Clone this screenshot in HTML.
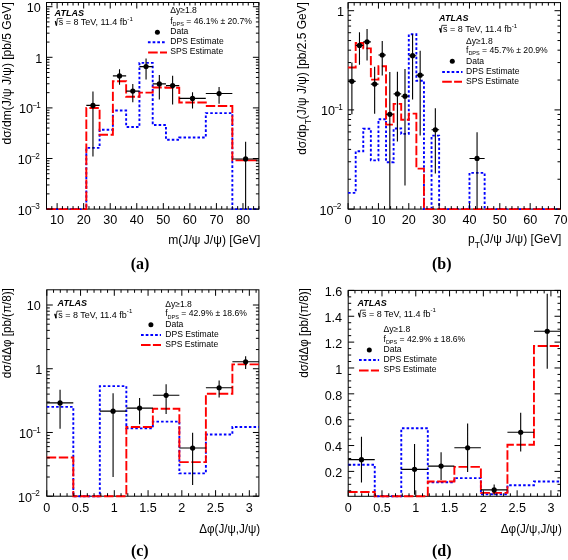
<!DOCTYPE html>
<html><head><meta charset="utf-8"><style>html,body{margin:0;padding:0;background:#fff;}svg{display:block;will-change:transform;}text{fill:#000;}</style></head>
<body>
<svg width="568" height="560" viewBox="0 0 568 560" font-family='"Liberation Sans", sans-serif'>
<rect width="568" height="560" fill="#fff"/>
<rect x="46.5" y="2.5" width="212.4" height="206.6" fill="none" stroke="#000" stroke-width="1"/>
<path d="M46.5 209.1 L86.32 209.1 L86.32 147.9 L99.6 147.9 L99.6 129.75 L112.88 129.75 L112.88 110.46 L126.15 110.46 L126.15 126.96 L139.42 126.96 L139.42 62.9 L152.7 62.9 L152.7 124.96 L165.97 124.96 L165.97 139.72 L179.25 139.72 L179.25 137.5 L205.8 137.5 L205.8 113.08 L232.35 113.08 L232.35 209.1 L258.9 209.1" fill="none" stroke="#0000ff" stroke-width="1.9" stroke-dasharray="2.55 2.1"/>
<path d="M46.5 209.1 L86.32 209.1 L86.32 108.01 L99.6 108.01 L99.6 134.8 L112.88 134.8 L112.88 81.27 L126.15 81.27 L126.15 96.76 L139.42 96.76 L139.42 92.67 L152.7 92.67 L152.7 87.5 L165.97 87.5 L165.97 87.68 L179.25 87.68 L179.25 102.48 L205.8 102.48 L205.8 106.01 L232.35 106.01 L232.35 160.33 L258.9 160.33" fill="none" stroke="#ff0000" stroke-width="1.9" stroke-dasharray="9.4 2.6"/>
<path d="M92.96 91.39V156.41M86.32 105.41H99.6M119.51 69.31V84.81M112.88 75.9H126.15M132.79 83.9V102.13M126.15 91.08H139.42M146.06 58.59V79.51M139.42 66.6H152.7M159.34 74.99V99.58M152.7 83.9H165.97M172.61 75.8V104.45M165.97 85.59H179.25M192.52 92.13V108.57M179.25 98.41H205.8M219.07 87.07V103.71M205.8 93.56H232.35M245.62 141.78V209.1M232.35 158.94H258.9" stroke="#000" stroke-width="1.1" fill="none"/>
<g fill="#000"><circle cx="92.96" cy="105.41" r="2.6"/><circle cx="119.51" cy="75.9" r="2.6"/><circle cx="132.79" cy="91.08" r="2.6"/><circle cx="146.06" cy="66.6" r="2.6"/><circle cx="159.34" cy="83.9" r="2.6"/><circle cx="172.61" cy="85.59" r="2.6"/><circle cx="192.52" cy="98.41" r="2.6"/><circle cx="219.07" cy="93.56" r="2.6"/><circle cx="245.62" cy="158.94" r="2.6"/></g>
<path d="M57.12 209.1v-6M57.12 2.5v6M83.67 209.1v-6M83.67 2.5v6M110.22 209.1v-6M110.22 2.5v6M136.77 209.1v-6M136.77 2.5v6M163.32 209.1v-6M163.32 2.5v3M189.87 209.1v-6M189.87 2.5v3M216.42 209.1v-6M216.42 2.5v3M242.97 209.1v-6M242.97 2.5v3M46.5 209.1v-3M46.5 2.5v3M51.81 209.1v-3M51.81 2.5v3M62.43 209.1v-3M62.43 2.5v3M67.74 209.1v-3M67.74 2.5v3M73.05 209.1v-3M73.05 2.5v3M78.36 209.1v-3M78.36 2.5v3M88.98 209.1v-3M88.98 2.5v3M94.29 209.1v-3M94.29 2.5v3M99.6 209.1v-3M99.6 2.5v3M104.91 209.1v-3M104.91 2.5v3M115.53 209.1v-3M115.53 2.5v3M120.84 209.1v-3M120.84 2.5v3M126.15 209.1v-3M126.15 2.5v3M131.46 209.1v-3M131.46 2.5v3M142.08 209.1v-3M142.08 2.5v3M147.39 209.1v-3M147.39 2.5v3M152.7 209.1v-3M152.7 2.5v3M158.01 209.1v-3M158.01 2.5v3M168.63 209.1v-3M168.63 2.5v3M173.94 209.1v-3M173.94 2.5v3M179.25 209.1v-3M179.25 2.5v3M184.56 209.1v-3M184.56 2.5v3M195.18 209.1v-3M195.18 2.5v3M200.49 209.1v-3M200.49 2.5v3M205.8 209.1v-3M205.8 2.5v3M211.11 209.1v-3M211.11 2.5v3M221.73 209.1v-3M221.73 2.5v3M227.04 209.1v-3M227.04 2.5v3M232.35 209.1v-3M232.35 2.5v3M237.66 209.1v-3M237.66 2.5v3M248.28 209.1v-3M248.28 2.5v3M253.59 209.1v-3M253.59 2.5v3M258.9 209.1v-3M258.9 2.5v3" stroke="#000" stroke-width="1" fill="none"/>
<path d="M46.5 209.1h6M258.9 209.1h-6M46.5 158.5h6M258.9 158.5h-6M46.5 107.9h6M258.9 107.9h-6M46.5 57.3h6M258.9 57.3h-6M46.5 6.7h6M258.9 6.7h-6M46.5 193.87h3M258.9 193.87h-3M46.5 184.96h3M258.9 184.96h-3M46.5 178.64h3M258.9 178.64h-3M46.5 173.73h3M258.9 173.73h-3M46.5 169.73h3M258.9 169.73h-3M46.5 166.34h3M258.9 166.34h-3M46.5 163.4h3M258.9 163.4h-3M46.5 160.82h3M258.9 160.82h-3M46.5 143.27h3M258.9 143.27h-3M46.5 134.36h3M258.9 134.36h-3M46.5 128.04h3M258.9 128.04h-3M46.5 123.13h3M258.9 123.13h-3M46.5 119.13h3M258.9 119.13h-3M46.5 115.74h3M258.9 115.74h-3M46.5 112.8h3M258.9 112.8h-3M46.5 110.22h3M258.9 110.22h-3M46.5 92.67h3M258.9 92.67h-3M46.5 83.76h3M258.9 83.76h-3M46.5 77.44h3M258.9 77.44h-3M46.5 72.53h3M258.9 72.53h-3M46.5 68.53h3M258.9 68.53h-3M46.5 65.14h3M258.9 65.14h-3M46.5 62.2h3M258.9 62.2h-3M46.5 59.62h3M258.9 59.62h-3M46.5 42.07h3M258.9 42.07h-3M46.5 33.16h3M258.9 33.16h-3M46.5 26.84h3M258.9 26.84h-3M46.5 21.93h3M258.9 21.93h-3M46.5 17.93h3M258.9 17.93h-3M46.5 14.54h3M258.9 14.54h-3M46.5 11.6h3M258.9 11.6h-3M46.5 9.02h3M258.9 9.02h-3" stroke="#000" stroke-width="1" fill="none"/>
<text x="57.12" y="223.95" font-size="12.6" text-anchor="middle">10</text>
<text x="83.67" y="223.95" font-size="12.6" text-anchor="middle">20</text>
<text x="110.22" y="223.95" font-size="12.6" text-anchor="middle">30</text>
<text x="136.77" y="223.95" font-size="12.6" text-anchor="middle">40</text>
<text x="163.32" y="223.95" font-size="12.6" text-anchor="middle">50</text>
<text x="189.87" y="223.95" font-size="12.6" text-anchor="middle">60</text>
<text x="216.42" y="223.95" font-size="12.6" text-anchor="middle">70</text>
<text x="242.97" y="223.95" font-size="12.6" text-anchor="middle">80</text>
<text x="26.74" y="12.1" font-size="12.6">10</text>
<text x="35.34" y="62.7" font-size="12.6">1</text>
<text x="19.04" y="113.3" font-size="12.6">10<tspan font-size="8.2" dx="-0.5" dy="-5.2">−</tspan><tspan font-size="8.2" dx="-1">1</tspan></text>
<text x="17.84" y="163.9" font-size="12.6">10<tspan font-size="8.2" dx="-0.5" dy="-5.2">−</tspan><tspan font-size="8.2" dx="-1">2</tspan></text>
<text x="17.84" y="214.5" font-size="12.6">10<tspan font-size="8.2" dx="-0.5" dy="-5.2">−</tspan><tspan font-size="8.2" dx="-1">3</tspan></text>
<text transform="translate(260.3 244.3) scale(0.995 1)" font-size="12.2" text-anchor="end">m(J/ψ J/ψ) [GeV]</text>
<text transform="translate(10.9 2.2) rotate(-90) scale(0.988 1)" font-size="12.2" text-anchor="end">dσ/dm(J/ψ J/ψ) [pb/5 GeV]</text>
<text x="54.6" y="16.4" font-size="9.0" font-weight="bold" font-style="italic">ATLAS</text>
<path d="M55.3 21.1 L56.57 25.59 L57.45 18.46 H62.53" stroke="#000" stroke-width="0.73" fill="none" stroke-linejoin="miter"/>
<path d="M55.4 21.2 L56.47 25.5" stroke="#000" stroke-width="1.27" fill="none"/>
<text x="58.7" y="25.3" font-size="9.0">s = 8 TeV,<tspan dx="2.5">11.4 fb</tspan><tspan font-size="6.12" dy="-4.6">-1</tspan></text>
<text x="170.2" y="13.4" font-size="8.6" text-anchor="start">Δy≥1.8</text>
<text x="170.2" y="23.5" font-size="8.6">f<tspan font-size="5.5" dy="2.3">DPS</tspan><tspan dy="-2.3"> = 46.1% ± 20.7%</tspan></text>
<circle cx="157.4" cy="32.2" r="2.5" fill="#000"/>
<text x="170.2" y="34" font-size="8.6" text-anchor="start">Data</text>
<path d="M147.9 42.3H165.3" stroke="#0000ff" stroke-width="2" stroke-dasharray="2.7 2.0" fill="none"/>
<text x="170.2" y="44" font-size="8.6" text-anchor="start">DPS Estimate</text>
<path d="M148.1 52.5H167" stroke="#ff0000" stroke-width="2" stroke-dasharray="9.6 2.3" fill="none"/>
<text x="170.2" y="54" font-size="8.6" text-anchor="start">SPS Estimate</text>
<rect x="348.1" y="2.6" width="212.4" height="206.5" fill="none" stroke="#000" stroke-width="1"/>
<path d="M348.1 192.91 L355.69 192.91 L355.69 151.25 L363.27 151.25 L363.27 128.79 L370.86 128.79 L370.86 160.36 L378.44 160.36 L378.44 119.19 L386.03 119.19 L386.03 162.2 L393.61 162.2 L393.61 128.46 L401.2 128.46 L401.2 133.89 L408.79 133.89 L408.79 34.32 L416.37 34.32 L416.37 80.69 L423.96 80.69 L423.96 209.1 L431.54 209.1 L431.54 135.66 L439.13 135.66 L439.13 209.1 L469.47 209.1 L469.47 172.84 L484.64 172.84 L484.64 209.1 L560.5 209.1" fill="none" stroke="#0000ff" stroke-width="1.9" stroke-dasharray="2.55 2.1"/>
<path d="M348.1 67.43 L355.69 67.43 L355.69 43.04 L363.27 43.04 L363.27 48.38 L370.86 48.38 L370.86 79.61 L378.44 79.61 L378.44 66.32 L386.03 66.32 L386.03 124.66 L393.61 124.66 L393.61 103.88 L401.2 103.88 L401.2 119.78 L408.79 119.78 L408.79 113.59 L416.37 113.59 L416.37 168.6 L423.96 168.6 L423.96 209.1 L560.5 209.1" fill="none" stroke="#ff0000" stroke-width="1.9" stroke-dasharray="9.4 2.6"/>
<path d="M351.89 62.57V114.3M348.1 81.35H355.69M359.48 32.14V64.63M355.69 45.39H363.27M367.06 28.93V60.6M363.27 41.87H370.86M374.65 66.79V113.77M370.86 84.1H378.44M382.24 41V75.54M378.44 55H386.03M389.82 72V209.1M386.03 114.3H393.61M397.41 71.65V141.52M393.61 93.89H401.2M404.99 68.9V185.61M401.2 96.18H408.79M412.58 34.32V99.6M408.79 55.68H416.37M420.16 50.83V135.5M416.37 75.16H423.96M435.34 108.21V173.4M431.54 129.74H439.13M477.06 132.27V209.1M469.47 158.45H484.64" stroke="#000" stroke-width="1.1" fill="none"/>
<g fill="#000"><circle cx="351.89" cy="81.35" r="2.6"/><circle cx="359.48" cy="45.39" r="2.6"/><circle cx="367.06" cy="41.87" r="2.6"/><circle cx="374.65" cy="84.1" r="2.6"/><circle cx="382.24" cy="55" r="2.6"/><circle cx="389.82" cy="114.3" r="2.6"/><circle cx="397.41" cy="93.89" r="2.6"/><circle cx="404.99" cy="96.18" r="2.6"/><circle cx="412.58" cy="55.68" r="2.6"/><circle cx="420.16" cy="75.16" r="2.6"/><circle cx="435.34" cy="129.74" r="2.6"/><circle cx="477.06" cy="158.45" r="2.6"/></g>
<path d="M348.1 209.1v-6M348.1 2.6v6M378.44 209.1v-6M378.44 2.6v6M408.79 209.1v-6M408.79 2.6v6M439.13 209.1v-6M439.13 2.6v6M469.47 209.1v-6M469.47 2.6v6M499.81 209.1v-6M499.81 2.6v6M530.16 209.1v-6M530.16 2.6v6M560.5 209.1v-6M560.5 2.6v6M354.17 209.1v-3M354.17 2.6v3M360.24 209.1v-3M360.24 2.6v3M366.31 209.1v-3M366.31 2.6v3M372.37 209.1v-3M372.37 2.6v3M384.51 209.1v-3M384.51 2.6v3M390.58 209.1v-3M390.58 2.6v3M396.65 209.1v-3M396.65 2.6v3M402.72 209.1v-3M402.72 2.6v3M414.85 209.1v-3M414.85 2.6v3M420.92 209.1v-3M420.92 2.6v3M426.99 209.1v-3M426.99 2.6v3M433.06 209.1v-3M433.06 2.6v3M445.2 209.1v-3M445.2 2.6v3M451.27 209.1v-3M451.27 2.6v3M457.33 209.1v-3M457.33 2.6v3M463.4 209.1v-3M463.4 2.6v3M475.54 209.1v-3M475.54 2.6v3M481.61 209.1v-3M481.61 2.6v3M487.68 209.1v-3M487.68 2.6v3M493.75 209.1v-3M493.75 2.6v3M505.88 209.1v-3M505.88 2.6v3M511.95 209.1v-3M511.95 2.6v3M518.02 209.1v-3M518.02 2.6v3M524.09 209.1v-3M524.09 2.6v3M536.23 209.1v-3M536.23 2.6v3M542.29 209.1v-3M542.29 2.6v3M548.36 209.1v-3M548.36 2.6v3M554.43 209.1v-3M554.43 2.6v3" stroke="#000" stroke-width="1" fill="none"/>
<path d="M348.1 209.1h6M560.5 209.1h-6M348.1 109.9h6M560.5 109.9h-6M348.1 10.7h6M560.5 10.7h-6M348.1 179.24h3M560.5 179.24h-3M348.1 161.77h3M560.5 161.77h-3M348.1 149.38h3M560.5 149.38h-3M348.1 139.76h3M560.5 139.76h-3M348.1 131.91h3M560.5 131.91h-3M348.1 125.27h3M560.5 125.27h-3M348.1 119.51h3M560.5 119.51h-3M348.1 114.44h3M560.5 114.44h-3M348.1 80.04h3M560.5 80.04h-3M348.1 62.57h3M560.5 62.57h-3M348.1 50.18h3M560.5 50.18h-3M348.1 40.56h3M560.5 40.56h-3M348.1 32.71h3M560.5 32.71h-3M348.1 26.07h3M560.5 26.07h-3M348.1 20.31h3M560.5 20.31h-3M348.1 15.24h3M560.5 15.24h-3" stroke="#000" stroke-width="1" fill="none"/>
<text x="348.1" y="223.95" font-size="12.6" text-anchor="middle">0</text>
<text x="378.44" y="223.95" font-size="12.6" text-anchor="middle">10</text>
<text x="408.79" y="223.95" font-size="12.6" text-anchor="middle">20</text>
<text x="439.13" y="223.95" font-size="12.6" text-anchor="middle">30</text>
<text x="469.47" y="223.95" font-size="12.6" text-anchor="middle">40</text>
<text x="499.81" y="223.95" font-size="12.6" text-anchor="middle">50</text>
<text x="530.16" y="223.95" font-size="12.6" text-anchor="middle">60</text>
<text x="560.5" y="223.95" font-size="12.6" text-anchor="middle">70</text>
<text x="336.94" y="16.1" font-size="12.6">1</text>
<text x="320.94" y="115.3" font-size="12.6">10<tspan font-size="8.2" dx="-0.5" dy="-5.2">−</tspan><tspan font-size="8.2" dx="-1">1</tspan></text>
<text x="319.44" y="214.5" font-size="12.6">10<tspan font-size="8.2" dx="-0.5" dy="-5.2">−</tspan><tspan font-size="8.2" dx="-1">2</tspan></text>
<text transform="translate(561.4 243.2) scale(0.99 1)" font-size="12.2" text-anchor="end">p<tspan font-size="8.54" dy="5.0">T</tspan><tspan dy="-5.0">(J/ψ J/ψ) [GeV]</tspan></text>
<text transform="translate(306.4 2.2) rotate(-90) scale(0.978 1)" font-size="12.2" text-anchor="end">dσ/dp<tspan font-size="8.54" dy="5.0">T</tspan><tspan dy="-5.0">(J/ψ J/ψ) [pb/2.5 GeV]</tspan></text>
<text x="439.1" y="20.8" font-size="9.0" font-weight="bold" font-style="italic">ATLAS</text>
<path d="M439.7 28 L440.97 32.49 L441.85 25.36 H446.93" stroke="#000" stroke-width="0.73" fill="none" stroke-linejoin="miter"/>
<path d="M439.8 28.1 L440.87 32.4" stroke="#000" stroke-width="1.27" fill="none"/>
<text x="443.1" y="32.2" font-size="9.0">s = 8 TeV,<tspan dx="2.5">11.4 fb</tspan><tspan font-size="6.12" dy="-4.6">-1</tspan></text>
<text x="466" y="43.6" font-size="8.6" text-anchor="start">Δy≥1.8</text>
<text x="466" y="52.9" font-size="8.6">f<tspan font-size="5.5" dy="2.3">DPS</tspan><tspan dy="-2.3"> = 45.7% ± 20.9%</tspan></text>
<circle cx="452.3" cy="61.3" r="2.5" fill="#000"/>
<text x="466" y="63.5" font-size="8.6" text-anchor="start">Data</text>
<path d="M442.2 71.9H462.5" stroke="#0000ff" stroke-width="2" stroke-dasharray="2.7 2.0" fill="none"/>
<text x="466" y="73.5" font-size="8.6" text-anchor="start">DPS Estimate</text>
<path d="M442.2 81.7H462" stroke="#ff0000" stroke-width="2" stroke-dasharray="9.6 2.3" fill="none"/>
<text x="466" y="83.5" font-size="8.6" text-anchor="start">SPS Estimate</text>
<rect x="46.8" y="289.8" width="212.1" height="206.4" fill="none" stroke="#000" stroke-width="1"/>
<path d="M46.8 406.89 L73.31 406.89 L73.31 496.2 L99.82 496.2 L99.82 386.1 L126.34 386.1 L126.34 428.36 L152.85 428.36 L152.85 421.62 L179.36 421.62 L179.36 473.39 L205.88 473.39 L205.88 434.48 L232.39 434.48 L232.39 426.97 L258.9 426.97" fill="none" stroke="#0000ff" stroke-width="1.9" stroke-dasharray="2.55 2.1"/>
<path d="M46.8 457.49 L73.31 457.49 L73.31 496.2 L99.82 496.2 L99.82 496.2 L126.34 496.2 L126.34 426.97 L152.85 426.97 L152.85 408.82 L179.36 408.82 L179.36 462.17 L205.88 462.17 L205.88 393.69 L232.39 393.69 L232.39 364.39 L258.9 364.39" fill="none" stroke="#ff0000" stroke-width="1.9" stroke-dasharray="9.4 2.6"/>
<path d="M60.06 389.76V428.84M46.8 402.91H73.31M113.08 393.28V477.02M99.82 411.16H126.34M139.59 397.96V424.37M126.34 408.12H152.85M166.11 384.25V413.99M152.85 395.3H179.36M192.62 432.75V484.98M179.36 448.03H205.88M219.13 380.54V397.56M205.88 387.76H232.39M245.64 356.18V368.91M232.39 361.82H258.9" stroke="#000" stroke-width="1.1" fill="none"/>
<g fill="#000"><circle cx="60.06" cy="402.91" r="2.6"/><circle cx="113.08" cy="411.16" r="2.6"/><circle cx="139.59" cy="408.12" r="2.6"/><circle cx="166.11" cy="395.3" r="2.6"/><circle cx="192.62" cy="448.03" r="2.6"/><circle cx="219.13" cy="387.76" r="2.6"/><circle cx="245.64" cy="361.82" r="2.6"/></g>
<path d="M46.8 496.2v-6M46.8 289.8v6M80.56 496.2v-6M80.56 289.8v6M114.31 496.2v-6M114.31 289.8v6M148.07 496.2v-6M148.07 289.8v6M181.83 496.2v-6M181.83 289.8v6M215.58 496.2v-6M215.58 289.8v6M249.34 496.2v-6M249.34 289.8v6M53.55 496.2v-3M53.55 289.8v3M60.3 496.2v-3M60.3 289.8v3M67.05 496.2v-3M67.05 289.8v3M73.81 496.2v-3M73.81 289.8v3M87.31 496.2v-3M87.31 289.8v3M94.06 496.2v-3M94.06 289.8v3M100.81 496.2v-3M100.81 289.8v3M107.56 496.2v-3M107.56 289.8v3M121.06 496.2v-3M121.06 289.8v3M127.82 496.2v-3M127.82 289.8v3M134.57 496.2v-3M134.57 289.8v3M141.32 496.2v-3M141.32 289.8v3M154.82 496.2v-3M154.82 289.8v3M161.57 496.2v-3M161.57 289.8v3M168.32 496.2v-3M168.32 289.8v3M175.08 496.2v-3M175.08 289.8v3M188.58 496.2v-3M188.58 289.8v3M195.33 496.2v-3M195.33 289.8v3M202.08 496.2v-3M202.08 289.8v3M208.83 496.2v-3M208.83 289.8v3M222.34 496.2v-3M222.34 289.8v3M229.09 496.2v-3M229.09 289.8v3M235.84 496.2v-3M235.84 289.8v3M242.59 496.2v-3M242.59 289.8v3M256.09 496.2v-3M256.09 289.8v3" stroke="#000" stroke-width="1" fill="none"/>
<text x="46.8" y="511.95" font-size="12.6" text-anchor="middle">0</text>
<text x="80.56" y="511.95" font-size="12.6" text-anchor="middle">0.5</text>
<text x="114.31" y="511.95" font-size="12.6" text-anchor="middle">1</text>
<text x="148.07" y="511.95" font-size="12.6" text-anchor="middle">1.5</text>
<text x="181.83" y="511.95" font-size="12.6" text-anchor="middle">2</text>
<text x="215.58" y="511.95" font-size="12.6" text-anchor="middle">2.5</text>
<text x="249.34" y="511.95" font-size="12.6" text-anchor="middle">3</text>
<text transform="translate(260.2 532.6) scale(0.955 1)" font-size="12.2" text-anchor="end">Δφ(J/ψ,J/ψ)</text>
<rect x="348.2" y="290.4" width="212.3" height="205.9" fill="none" stroke="#000" stroke-width="1"/>
<path d="M348.2 464.68 L374.74 464.68 L374.74 496.3 L401.27 496.3 L401.27 428.22 L427.81 428.22 L427.81 482.26 L454.35 482.26 L454.35 478.13 L480.89 478.13 L480.89 494.31 L507.43 494.31 L507.43 485.24 L533.96 485.24 L533.96 481.49 L560.5 481.49" fill="none" stroke="#0000ff" stroke-width="1.9" stroke-dasharray="2.55 2.1"/>
<path d="M348.2 492.02 L374.74 492.02 L374.74 496.3 L401.27 496.3 L401.27 496.3 L427.81 496.3 L427.81 481.49 L454.35 481.49 L454.35 466.88 L480.89 466.88 L480.89 492.84 L507.43 492.84 L507.43 444.77 L533.96 444.77 L533.96 345.99 L560.5 345.99" fill="none" stroke="#ff0000" stroke-width="1.9" stroke-dasharray="9.4 2.6"/>
<path d="M361.47 436.75V482.52M348.2 459.64H374.74M414.54 443.99V494.67M401.27 469.33H427.81M441.08 452.27V479.94M427.81 466.1H454.35M467.62 423.44V472.05M454.35 447.74H480.89M494.16 484.46V495.32M480.89 489.89H507.43M520.69 412.83V451.62M507.43 432.23H533.96M547.23 293.76V368.75M533.96 331.25H560.5" stroke="#000" stroke-width="1.1" fill="none"/>
<g fill="#000"><circle cx="361.47" cy="459.64" r="2.6"/><circle cx="414.54" cy="469.33" r="2.6"/><circle cx="441.08" cy="466.1" r="2.6"/><circle cx="467.62" cy="447.74" r="2.6"/><circle cx="494.16" cy="489.89" r="2.6"/><circle cx="520.69" cy="432.23" r="2.6"/><circle cx="547.23" cy="331.25" r="2.6"/></g>
<path d="M348.2 496.3v-6M348.2 290.4v6M381.99 496.3v-6M381.99 290.4v6M415.78 496.3v-6M415.78 290.4v6M449.57 496.3v-6M449.57 290.4v6M483.35 496.3v-6M483.35 290.4v6M517.14 496.3v-6M517.14 290.4v6M550.93 496.3v-6M550.93 290.4v6M354.96 496.3v-3M354.96 290.4v3M361.72 496.3v-3M361.72 290.4v3M368.47 496.3v-3M368.47 290.4v3M375.23 496.3v-3M375.23 290.4v3M388.75 496.3v-3M388.75 290.4v3M395.5 496.3v-3M395.5 290.4v3M402.26 496.3v-3M402.26 290.4v3M409.02 496.3v-3M409.02 290.4v3M422.53 496.3v-3M422.53 290.4v3M429.29 496.3v-3M429.29 290.4v3M436.05 496.3v-3M436.05 290.4v3M442.81 496.3v-3M442.81 290.4v3M456.32 496.3v-3M456.32 290.4v3M463.08 496.3v-3M463.08 290.4v3M469.84 496.3v-3M469.84 290.4v3M476.6 496.3v-3M476.6 290.4v3M490.11 496.3v-3M490.11 290.4v3M496.87 496.3v-3M496.87 290.4v3M503.63 496.3v-3M503.63 290.4v3M510.39 496.3v-3M510.39 290.4v3M523.9 496.3v-3M523.9 290.4v3M530.66 496.3v-3M530.66 290.4v3M537.42 496.3v-3M537.42 290.4v3M544.17 496.3v-3M544.17 290.4v3M557.69 496.3v-3M557.69 290.4v3" stroke="#000" stroke-width="1" fill="none"/>
<text x="348.2" y="512.05" font-size="12.6" text-anchor="middle">0</text>
<text x="381.99" y="512.05" font-size="12.6" text-anchor="middle">0.5</text>
<text x="415.78" y="512.05" font-size="12.6" text-anchor="middle">1</text>
<text x="449.57" y="512.05" font-size="12.6" text-anchor="middle">1.5</text>
<text x="483.35" y="512.05" font-size="12.6" text-anchor="middle">2</text>
<text x="517.14" y="512.05" font-size="12.6" text-anchor="middle">2.5</text>
<text x="550.93" y="512.05" font-size="12.6" text-anchor="middle">3</text>
<text transform="translate(561.8 532.6) scale(0.955 1)" font-size="12.2" text-anchor="end">Δφ(J/ψ,J/ψ)</text>
<path d="M46.8 496.2h6M258.9 496.2h-6M46.8 432.47h6M258.9 432.47h-6M46.8 368.74h6M258.9 368.74h-6M46.8 305.01h6M258.9 305.01h-6M46.8 477.02h3M258.9 477.02h-3M46.8 465.79h3M258.9 465.79h-3M46.8 457.83h3M258.9 457.83h-3M46.8 451.65h3M258.9 451.65h-3M46.8 446.61h3M258.9 446.61h-3M46.8 442.34h3M258.9 442.34h-3M46.8 438.65h3M258.9 438.65h-3M46.8 435.39h3M258.9 435.39h-3M46.8 413.29h3M258.9 413.29h-3M46.8 402.06h3M258.9 402.06h-3M46.8 394.1h3M258.9 394.1h-3M46.8 387.92h3M258.9 387.92h-3M46.8 382.88h3M258.9 382.88h-3M46.8 378.61h3M258.9 378.61h-3M46.8 374.92h3M258.9 374.92h-3M46.8 371.66h3M258.9 371.66h-3M46.8 349.56h3M258.9 349.56h-3M46.8 338.33h3M258.9 338.33h-3M46.8 330.37h3M258.9 330.37h-3M46.8 324.19h3M258.9 324.19h-3M46.8 319.15h3M258.9 319.15h-3M46.8 314.88h3M258.9 314.88h-3M46.8 311.19h3M258.9 311.19h-3M46.8 307.93h3M258.9 307.93h-3" stroke="#000" stroke-width="1" fill="none"/>
<text x="26.64" y="310.41" font-size="12.6">10</text>
<text x="35.14" y="374.14" font-size="12.6">1</text>
<text x="19.04" y="437.87" font-size="12.6">10<tspan font-size="8.2" dx="-0.5" dy="-5.2">−</tspan><tspan font-size="8.2" dx="-1">1</tspan></text>
<text x="18.04" y="501.6" font-size="12.6">10<tspan font-size="8.2" dx="-0.5" dy="-5.2">−</tspan><tspan font-size="8.2" dx="-1">2</tspan></text>
<text transform="translate(10.9 288.2) rotate(-90) scale(0.955 1)" font-size="12.2" text-anchor="end">dσ/dΔφ [pb/(π/8)]</text>
<text x="57.6" y="306.1" font-size="9.0" font-weight="bold" font-style="italic">ATLAS</text>
<path d="M54.8 313.8 L56.07 318.29 L56.95 311.16 H62.03" stroke="#000" stroke-width="0.73" fill="none" stroke-linejoin="miter"/>
<path d="M54.9 313.9 L55.97 318.2" stroke="#000" stroke-width="1.27" fill="none"/>
<text x="58.2" y="318" font-size="9.0">s = 8 TeV,<tspan dx="2.5">11.4 fb</tspan><tspan font-size="6.12" dy="-4.6">-1</tspan></text>
<text x="165.2" y="306.8" font-size="8.6" text-anchor="start">Δy≥1.8</text>
<text x="165.2" y="316.3" font-size="8.6">f<tspan font-size="5.5" dy="2.3">DPS</tspan><tspan dy="-2.3"> = 42.9% ± 18.6%</tspan></text>
<circle cx="150.9" cy="324.7" r="2.5" fill="#000"/>
<text x="165.2" y="326.6" font-size="8.6" text-anchor="start">Data</text>
<path d="M141 334.9H161" stroke="#0000ff" stroke-width="2" stroke-dasharray="2.7 2.0" fill="none"/>
<text x="165.2" y="336.7" font-size="8.6" text-anchor="start">DPS Estimate</text>
<path d="M141 344.9H161" stroke="#ff0000" stroke-width="2" stroke-dasharray="9.6 2.3" fill="none"/>
<text x="165.2" y="346.5" font-size="8.6" text-anchor="start">SPS Estimate</text>
<path d="M348.2 471.4h6M560.5 471.4h-6M348.2 445.54h6M560.5 445.54h-6M348.2 419.69h6M560.5 419.69h-6M348.2 393.83h6M560.5 393.83h-6M348.2 367.97h6M560.5 367.97h-6M348.2 342.11h6M560.5 342.11h-6M348.2 316.25h6M560.5 316.25h-6M348.2 290.4h6M560.5 290.4h-6M348.2 490.8h3M560.5 490.8h-3M348.2 484.33h3M560.5 484.33h-3M348.2 477.87h3M560.5 477.87h-3M348.2 464.94h3M560.5 464.94h-3M348.2 458.47h3M560.5 458.47h-3M348.2 452.01h3M560.5 452.01h-3M348.2 439.08h3M560.5 439.08h-3M348.2 432.62h3M560.5 432.62h-3M348.2 426.15h3M560.5 426.15h-3M348.2 413.22h3M560.5 413.22h-3M348.2 406.76h3M560.5 406.76h-3M348.2 400.29h3M560.5 400.29h-3M348.2 387.36h3M560.5 387.36h-3M348.2 380.9h3M560.5 380.9h-3M348.2 374.43h3M560.5 374.43h-3M348.2 361.51h3M560.5 361.51h-3M348.2 355.04h3M560.5 355.04h-3M348.2 348.58h3M560.5 348.58h-3M348.2 335.65h3M560.5 335.65h-3M348.2 329.18h3M560.5 329.18h-3M348.2 322.72h3M560.5 322.72h-3M348.2 309.79h3M560.5 309.79h-3M348.2 303.32h3M560.5 303.32h-3M348.2 296.86h3M560.5 296.86h-3" stroke="#000" stroke-width="1" fill="none"/>
<text x="324.82" y="477.2" font-size="12.6" text-anchor="start">0.2</text>
<text x="324.55" y="451.34" font-size="12.6" text-anchor="start">0.4</text>
<text x="324.74" y="425.49" font-size="12.6" text-anchor="start">0.6</text>
<text x="324.73" y="399.63" font-size="12.6" text-anchor="start">0.8</text>
<text x="335.31" y="373.77" font-size="12.6" text-anchor="start">1</text>
<text x="324.82" y="347.91" font-size="12.6" text-anchor="start">1.2</text>
<text x="324.55" y="322.05" font-size="12.6" text-anchor="start">1.4</text>
<text x="324.74" y="296.2" font-size="12.6" text-anchor="start">1.6</text>
<text transform="translate(308 288.2) rotate(-90) scale(0.95 1)" font-size="12.2" text-anchor="end">dσ/dΔφ [pb/(π/8)]</text>
<text x="357.4" y="305.7" font-size="9.0" font-weight="bold" font-style="italic">ATLAS</text>
<path d="M358.5 312.8 L359.77 317.29 L360.65 310.16 H365.73" stroke="#000" stroke-width="0.73" fill="none" stroke-linejoin="miter"/>
<path d="M358.6 312.9 L359.67 317.2" stroke="#000" stroke-width="1.27" fill="none"/>
<text x="361.9" y="317" font-size="9.0">s = 8 TeV,<tspan dx="2.5">11.4 fb</tspan><tspan font-size="6.12" dy="-4.6">-1</tspan></text>
<text x="383.5" y="332" font-size="8.6" text-anchor="start">Δy≥1.8</text>
<text x="383.5" y="341.5" font-size="8.6">f<tspan font-size="5.5" dy="2.3">DPS</tspan><tspan dy="-2.3"> = 42.9% ± 18.6%</tspan></text>
<circle cx="369.3" cy="350" r="2.5" fill="#000"/>
<text x="383.5" y="351.8" font-size="8.6" text-anchor="start">Data</text>
<path d="M359 360H379.1" stroke="#0000ff" stroke-width="2" stroke-dasharray="2.7 2.0" fill="none"/>
<text x="383.5" y="361.9" font-size="8.6" text-anchor="start">DPS Estimate</text>
<path d="M359 370.4H379" stroke="#ff0000" stroke-width="2" stroke-dasharray="9.6 2.3" fill="none"/>
<text x="383.5" y="371.6" font-size="8.6" text-anchor="start">SPS Estimate</text>
<text x="140" y="268.7" font-size="16" font-weight="bold" text-anchor="middle" font-family='"Liberation Serif", serif'>(a)</text>
<text x="441.8" y="268.7" font-size="16" font-weight="bold" text-anchor="middle" font-family='"Liberation Serif", serif'>(b)</text>
<text x="139.8" y="556" font-size="16" font-weight="bold" text-anchor="middle" font-family='"Liberation Serif", serif'>(c)</text>
<text x="441.8" y="556.2" font-size="16" font-weight="bold" text-anchor="middle" font-family='"Liberation Serif", serif'>(d)</text>
</svg>
</body></html>
